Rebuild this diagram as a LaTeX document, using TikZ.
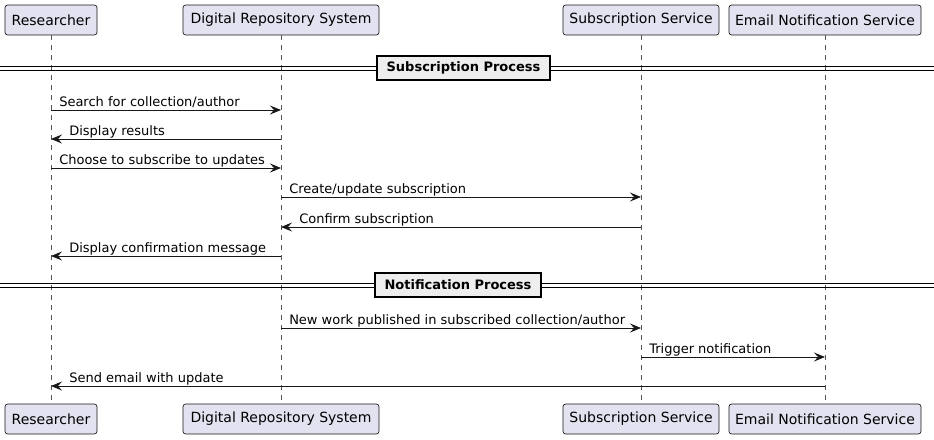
\documentclass[tikz,border=0pt]{standalone}
\usepackage{fontspec}
\setmainfont{DejaVu Sans}
\usetikzlibrary{arrows.meta}
\definecolor{partfill}{HTML}{E2E2F0}
\definecolor{partline}{HTML}{181818}
\definecolor{lifegray}{HTML}{555555}
\definecolor{divfill}{HTML}{EEEEEE}
\tikzset{
  part/.style={draw=partline, fill=partfill, rounded corners=2pt, line width=0.5pt,
    minimum height=22.5pt, inner sep=0pt, font=\fontsize{10.5}{12}\selectfont},
  life/.style={draw=lifegray, line width=0.4pt, dash pattern=on 3.75pt off 3.75pt},
  msg/.style={draw=partline, line width=0.75pt, -{Stealth[length=8.25pt,width=6.75pt,inset=3pt]}},
  lbl/.style={anchor=base west, inner sep=0pt, font=\fontsize{9.75}{12}\selectfont, text=black},
  divline/.style={draw=black, line width=0.75pt},
  divbox/.style={draw=black, fill=divfill, line width=1.4pt, inner xsep=7pt, inner ysep=3pt,
    minimum height=18.5pt, font=\bfseries\fontsize{9.75}{12}\selectfont}
}
\begin{document}
\begin{tikzpicture}[x=0.75pt,y=-0.75pt]
\useasboundingbox (0,0) rectangle (934,439);
% participants top
\node[part, minimum width=69pt] (Rt) at (51,20) {Researcher};
\node[part, minimum width=147pt] (Dt) at (281,20) {Digital Repository System};
\node[part, minimum width=117pt] (St) at (641,20) {Subscription Service};
\node[part, minimum width=144pt] (Et) at (825,20) {Email Notification Service};
% participants bottom
\node[part, minimum width=69pt] (Rb) at (51,419) {Researcher};
\node[part, minimum width=147pt] (Db) at (281,419) {Digital Repository System};
\node[part, minimum width=117pt] (Sb) at (641,419) {Subscription Service};
\node[part, minimum width=144pt] (Eb) at (825,419) {Email Notification Service};
% lifelines
\draw[life] (Rt.south) -- (Rb.north);
\draw[life] (Dt.south) -- (Db.north);
\draw[life] (St.south) -- (Sb.north);
\draw[life] (Et.south) -- (Eb.north);
% message rows
\coordinate (m1) at (0,110);
\coordinate (m2) at (0,139);
\coordinate (m3) at (0,168);
\coordinate (m4) at (0,197);
\coordinate (m5) at (0,227);
\coordinate (m6) at (0,256);
\coordinate (m7) at (0,328);
\coordinate (m8) at (0,357);
\coordinate (m9) at (0,386);
% divider 1
\coordinate (d1l) at (0,68);
\coordinate (d1r) at (934,68);
\draw[divline] ([yshift=1.5pt]d1l) -- ([yshift=1.5pt]d1r);
\draw[divline] ([yshift=-1.5pt]d1l) -- ([yshift=-1.5pt]d1r);
\node[divbox] (div1) at (463.5,68) {Subscription Process};
% divider 2
\coordinate (d2l) at (0,285);
\coordinate (d2r) at (934,285);
\draw[divline] ([yshift=1.5pt]d2l) -- ([yshift=1.5pt]d2r);
\draw[divline] ([yshift=-1.5pt]d2l) -- ([yshift=-1.5pt]d2r);
\node[divbox] (div2) at (458,285) {Notification Process};
% messages
\draw[msg] (Rt |- m1) -- (Dt |- m1);
\node[lbl] at ([xshift=6pt,yshift=3pt]Rt |- m1) {Search for collection/author};
\draw[msg] (Dt |- m2) -- (Rt |- m2);
\node[lbl] at ([xshift=13.5pt,yshift=3pt]Rt |- m2) {Display results};
\draw[msg] (Rt |- m3) -- (Dt |- m3);
\node[lbl] at ([xshift=6pt,yshift=3pt]Rt |- m3) {Choose to subscribe to updates};
\draw[msg] (Dt |- m4) -- (St |- m4);
\node[lbl] at ([xshift=6pt,yshift=3pt]Dt |- m4) {Create/update subscription};
\draw[msg] (St |- m5) -- (Dt |- m5);
\node[lbl] at ([xshift=13.5pt,yshift=3pt]Dt |- m5) {Confirm subscription};
\draw[msg] (Dt |- m6) -- (Rt |- m6);
\node[lbl] at ([xshift=13.5pt,yshift=3pt]Rt |- m6) {Display confirmation message};
\draw[msg] (Dt |- m7) -- (St |- m7);
\node[lbl] at ([xshift=6pt,yshift=3pt]Dt |- m7) {New work published in subscribed collection/author};
\draw[msg] (St |- m8) -- (Et |- m8);
\node[lbl] at ([xshift=6pt,yshift=3pt]St |- m8) {Trigger notification};
\draw[msg] (Et |- m9) -- (Rt |- m9);
\node[lbl] at ([xshift=13.5pt,yshift=3pt]Rt |- m9) {Send email with update};
\end{tikzpicture}
\end{document}
